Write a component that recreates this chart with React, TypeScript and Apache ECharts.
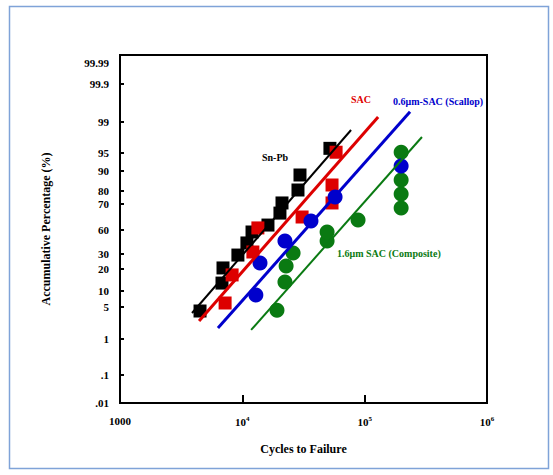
import React, { useEffect, useRef } from "react";
import * as echarts from "echarts";

// Probability-paper tick definitions (label, percentage, position on the paper scale)
const yTickLabels = ["99.99", "99.9", "99", "95", "90", "80", "70", "60", "30", "20", "10", "5", "1", ".1", ".01"];
const yTickPct = [99.99, 99.9, 99, 95, 90, 80, 70, 60, 30, 20, 10, 5, 1, 0.1, 0.01];
const yTickPos = [340, 319, 281, 250, 232, 212, 199, 173, 149, 134, 112, 96, 64, 28, 0];
const yScaleMax = 348;

// Sn-Pb
const snpbCycles = [4510, 6820, 6950, 9200, 10900, 12000, 16200, 20300, 21100, 28500, 29600, 52000];
const snpbPct = [4.5, 13.6, 20.7, 29.3, 43.8, 57.5, 61.9, 66.5, 70.8, 80.5, 88, 95.6];
const snpbFitCycles = [3880, 77400];
const snpbFitPct = [4.25, 97.97];

// SAC
const sacCycles = [7230, 8250, 12200, 13400, 30800, 54100, 54100, 58400];
const sacPct = [6.25, 17.3, 32.5, 60.8, 65, 70.8, 83, 95.1];
const sacFitCycles = [4430, 128800];
const sacFitPct = [3.25, 99.12];

// 0.6um SAC (Scallop)
const scallopCycles = [12900, 13950, 22300, 36400, 57300, 198700];
const scallopPct = [8.75, 24, 46.3, 63.5, 75.4, 91.4];
const scallopFitCycles = [6320, 235000];
const scallopFitPct = [2.38, 99.24];

// 1.6um SAC (Composite)
const compCycles = [19200, 22300, 22800, 26000, 49300, 49300, 88300, 198700, 198700, 198700, 198700];
const compPct = [4.6, 14.1, 22, 31.3, 46.3, 57.5, 63.8, 68.5, 77.7, 85.5, 95.1];
const compFitCycles = [11800, 294000];
const compFitPct = [2.13, 97.06];

function toU(p: number): number {
  for (let i = 0; i < yTickPct.length - 1; i++) {
    const hi = yTickPct[i];
    const lo = yTickPct[i + 1];
    if (p <= hi && p >= lo) {
      return yTickPos[i + 1] + ((p - lo) / (hi - lo)) * (yTickPos[i] - yTickPos[i + 1]);
    }
  }
  return p > yTickPct[0] ? yTickPos[0] : 0;
}

const pairs = (xs: number[], ps: number[]) => xs.map((x, i) => [x, toU(ps[i])]);

const FONT = "'Liberation Serif', 'Times New Roman', serif";

export default function App() {
  const ref = useRef<HTMLDivElement>(null);
  useEffect(() => {
    if (!ref.current) return;
    const chart = echarts.init(ref.current, undefined, { renderer: "svg" });
    const lineSeries = (name: string, xs: number[], ps: number[], color: string, width: number) => ({
      name,
      type: "line",
      data: pairs(xs, ps),
      symbol: "none",
      lineStyle: { color, width },
      z: 5,
    });
    const scatter = (name: string, xs: number[], ps: number[], color: string, symbol: string, size: number, z: number) => ({
      name,
      type: "scatter",
      data: pairs(xs, ps),
      symbol,
      symbolSize: size,
      itemStyle: { color, opacity: 1 },
      z,
    });
    chart.setOption({
      animation: false,
      backgroundColor: "#fff",
      grid: {
        left: 120,
        right: 66,
        top: 55,
        bottom: 72,
        show: true,
        borderColor: "#000",
        borderWidth: 2,
      },
      xAxis: {
        type: "log",
        logBase: 10,
        min: 1000,
        max: 1000000,
        name: "Cycles to Failure",
        nameLocation: "middle",
        nameGap: 40,
        nameTextStyle: { fontFamily: FONT, fontWeight: "bold", fontSize: 12, color: "#000" },
        axisLine: { show: true, lineStyle: { color: "#000", width: 2 } },
        axisTick: { show: true, inside: true, length: 8, lineStyle: { color: "#000", width: 2 } },
        splitLine: { show: false },
        axisLabel: {
          margin: 12,
          color: "#000",
          fontFamily: FONT,
          fontWeight: "bold",
          fontSize: 11,
          formatter: (v: number) => {
            if (Math.abs(v - 1000) < 1) return "1000";
            const e = Math.round(Math.log10(v));
            return `{b|10}{s|${e}}`;
          },
          rich: {
            b: { fontFamily: FONT, fontWeight: "bold", fontSize: 11, color: "#000" },
            s: { fontFamily: FONT, fontWeight: "bold", fontSize: 7, color: "#000", verticalAlign: "top", padding: [0, 0, 6, 0] },
          },
        },
      },
      yAxis: {
        type: "value",
        min: 0,
        max: yScaleMax,
        name: "Accumulative Percentage (%)",
        nameLocation: "middle",
        nameGap: 68,
        nameRotate: 90,
        nameTextStyle: { fontFamily: FONT, fontWeight: "bold", fontSize: 12, color: "#000" },
        axisLine: { show: true, lineStyle: { color: "#000", width: 2 } },
        axisTick: {
          show: true,
          inside: true,
          length: 4,
          customValues: yTickPos.slice(1),
          lineStyle: { color: "#000", width: 2 },
        },
        splitLine: { show: false },
        axisLabel: {
          customValues: yTickPos,
          margin: 11,
          color: "#000",
          fontFamily: FONT,
          fontWeight: "bold",
          fontSize: 11,
          formatter: (v: number) => {
            const i = yTickPos.indexOf(v);
            return i >= 0 ? yTickLabels[i] : "";
          },
        },
      },
      graphic: [
        {
          type: "rect",
          shape: { x: 9.5, y: 6.5, width: 539, height: 462 },
          style: { fill: "none", stroke: "#7fa3d8", lineWidth: 1.5 },
          silent: true,
        },
        {
          type: "text",
          x: 275,
          y: 157,
          style: { text: "Sn-Pb", fill: "#000", font: `bold 10px ${FONT}`, align: "center", verticalAlign: "middle" },
        },
        {
          type: "text",
          x: 361,
          y: 99,
          style: { text: "SAC", fill: "#e00000", font: `bold 10px ${FONT}`, align: "center", verticalAlign: "middle" },
        },
        {
          type: "text",
          x: 393,
          y: 101,
          style: { text: "0.6μm-SAC (Scallop)", fill: "#0000cc", font: `bold 10px ${FONT}`, align: "left", verticalAlign: "middle" },
        },
        {
          type: "text",
          x: 337,
          y: 253,
          style: { text: "1.6μm SAC (Composite)", fill: "#0a7a12", font: `bold 10px ${FONT}`, align: "left", verticalAlign: "middle" },
        },
      ],
      series: [
        scatter("Sn-Pb", snpbCycles, snpbPct, "#000000", "rect", 13, 2),
        scatter("SAC", sacCycles, sacPct, "#dd0000", "rect", 13, 3),
        scatter("1.6um SAC (Composite)", compCycles, compPct, "#0a7a12", "circle", 15, 3),
        scatter("0.6um-SAC (Scallop)", scallopCycles, scallopPct, "#0000cc", "circle", 15, 4),
        lineSeries("Sn-Pb fit", snpbFitCycles, snpbFitPct, "#000000", 2),
        lineSeries("SAC fit", sacFitCycles, sacFitPct, "#dd0000", 3),
        lineSeries("Scallop fit", scallopFitCycles, scallopFitPct, "#0000cc", 3),
        lineSeries("Composite fit", compFitCycles, compFitPct, "#0a7a12", 2),
      ],
    });
    return () => chart.dispose();
  }, []);
  return (
    <div
      ref={ref}
      style={{ position: "fixed", left: 0, top: 0, width: 553, height: 475, background: "#fff" }}
    />
  );
}
